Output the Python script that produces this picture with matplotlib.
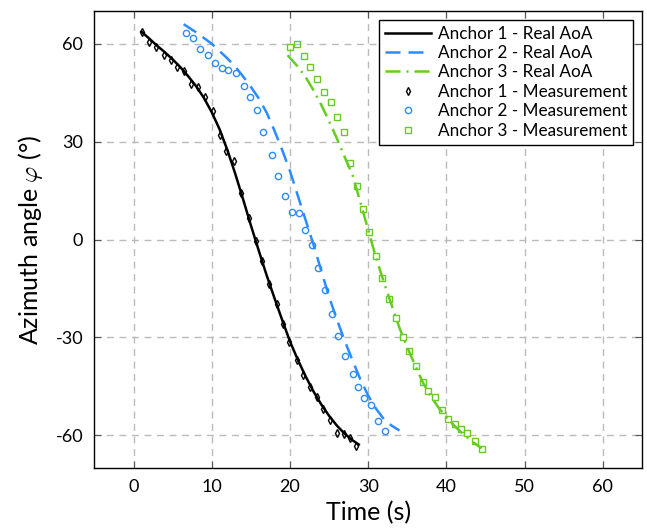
import numpy as np
import matplotlib
matplotlib.use("Agg")
from matplotlib import pyplot as plt

plt.rcParams['font.family'] = ['Lato', 'DejaVu Sans']
plt.rcParams['axes.unicode_minus'] = False
plt.rcParams['mathtext.fontset'] = 'cm'

# Real AoA curves (time in s, angle in deg)
real1_t = [1.0, 2, 3, 4, 5, 6, 7, 8, 9, 10, 11, 12, 13, 14, 15, 16, 17, 18, 19, 20, 21, 22, 23, 24, 25, 26, 27, 28, 28.8]
real1_y = [63.7, 61.6, 59.4, 57.4, 55.2, 52.8, 50.0, 47.0, 43.4, 39.0, 33.8, 27.4, 20.2, 12.4, 4.4, -3.3, -10.8, -17.8, -24.6, -31.2, -36.8, -41.9, -46.5, -50.5, -54.0, -57.0, -59.5, -61.5, -62.8]

real2_t = [6.4, 8, 10, 12, 13, 14, 15, 16, 17, 18, 19, 20, 21, 22, 23, 24, 25, 26, 27, 28, 29, 30, 31, 32, 33, 34]
real2_y = [66.0, 63.5, 60.0, 55.5, 53.0, 50.0, 46.8, 43.3, 39.0, 33.5, 27.5, 21.0, 13.5, 6.0, -1.5, -9.5, -17.5, -24.5, -31.0, -37.0, -42.8, -47.8, -51.8, -55.0, -57.0, -58.5]

real3_t = [19.7, 21, 22, 23, 24, 25, 26, 27, 28, 29, 30, 31, 32, 33, 34, 35, 36, 37, 38, 39, 40, 41, 42, 43, 44.5]
real3_y = [56.5, 53.0, 49.8, 45.8, 41.3, 36.3, 31.0, 25.3, 19.8, 11.5, 3.0, -5.5, -13.0, -20.0, -27.0, -33.0, -38.5, -43.8, -48.0, -51.5, -54.5, -57.0, -59.3, -61.3, -64.0]

# Measurements
meas1_t = [1.1, 2.0, 2.9, 3.9, 4.8, 5.6, 6.5, 7.4, 8.3, 9.2, 10.1, 11.0, 11.8, 12.9, 13.8, 14.7, 15.6, 16.4, 17.3, 18.3, 19.1, 19.9, 20.9, 21.7, 22.6, 23.4, 24.2, 25.1, 26.0, 26.9, 27.7, 28.5]
meas1_y = [63.7, 60.6, 59.1, 56.4, 55.1, 52.9, 51.7, 47.7, 46.8, 43.7, 39.3, 32.1, 27.0, 24.1, 14.2, 6.7, -0.5, -6.5, -13.5, -19.7, -25.8, -31.4, -37.0, -41.5, -45.2, -48.3, -51.8, -55.3, -59.2, -59.7, -60.9, -63.3]

meas2_t = [6.7, 7.6, 8.5, 9.5, 10.4, 11.3, 12.1, 13.1, 14.1, 14.9, 15.8, 16.6, 17.7, 18.5, 19.4, 20.2, 21.1, 21.95, 22.8, 23.6, 24.5, 25.4, 26.2, 27.1, 28.0, 28.7, 29.5, 30.4, 31.2, 32.1]
meas2_y = [63.3, 61.7, 58.3, 56.6, 54.2, 52.6, 52.0, 50.9, 47.1, 43.6, 39.8, 33.1, 25.9, 19.6, 13.2, 8.5, 8.0, 3.0, -1.8, -8.6, -15.6, -22.7, -29.7, -35.6, -41.1, -45.1, -48.5, -50.7, -55.5, -58.8]

meas3_t = [19.95, 20.9, 21.8, 22.6, 23.4, 24.3, 25.2, 26.0, 26.9, 27.7, 28.6, 29.3, 30.1, 31.0, 31.8, 32.65, 33.5, 34.4, 35.2, 36.1, 37.0, 37.7, 38.6, 39.4, 40.2, 41.1, 41.9, 42.7, 43.7, 44.5]
meas3_y = [59.1, 59.9, 56.1, 53.0, 49.1, 45.3, 42.0, 37.7, 33.1, 23.6, 16.3, 9.4, 2.2, -4.9, -11.8, -18.3, -24.1, -29.8, -34.0, -38.8, -43.5, -46.3, -48.2, -52.3, -54.9, -56.6, -57.9, -59.2, -61.7, -64.1]

x_ticks = [0, 10, 20, 30, 40, 50, 60]
y_ticks = [-60, -30, 0, 30, 60]

blue = '#2B8CFF'
green = '#66CC22'

fig = plt.figure(figsize=(6.47, 5.29), dpi=100)
ax = fig.add_axes([0.146, 0.1153, 0.846, 0.8637])

ax.grid(True, color='#bbbbbb', linestyle=(0, (5, 4)), linewidth=1.0)
ax.set_axisbelow(True)

ax.plot(real1_t, real1_y, color='black', linewidth=1.8, label='Anchor 1 - Real AoA')
ax.plot(real2_t, real2_y, color=blue, linewidth=1.8, linestyle=(0, (6, 3.2)), label='Anchor 2 - Real AoA')
ax.plot(real3_t, real3_y, color=green, linewidth=1.8, linestyle=(0, (6, 2.4, 0.8, 2.4)), label='Anchor 3 - Real AoA')

ax.plot(meas1_t, meas1_y, linestyle='none', marker='d', markersize=4, markerfacecolor='none',
        markeredgecolor='black', markeredgewidth=1.0, label='Anchor 1 - Measurement')
ax.plot(meas2_t, meas2_y, linestyle='none', marker='o', markersize=4.5, markerfacecolor='none',
        markeredgecolor=blue, markeredgewidth=1.0, label='Anchor 2 - Measurement')
ax.plot(meas3_t, meas3_y, linestyle='none', marker='s', markersize=4, markerfacecolor='none',
        markeredgecolor=green, markeredgewidth=1.0, label='Anchor 3 - Measurement')

ax.set_xlim(-5, 65)
ax.set_ylim(-70, 70)
ax.set_xticks(x_ticks)
ax.set_yticks(y_ticks)
ax.tick_params(direction='in', top=True, right=True, length=5, width=0.8,
               color='#555555', labelsize=13, pad=8)
for s in ax.spines.values():
    s.set_linewidth(1.0)

ax.set_xlabel('Time (s)', fontsize=18, labelpad=4)
ax.set_ylabel(r'Azimuth angle $\varphi$ (°)', fontsize=18, labelpad=8)

leg = ax.legend(loc='upper right', fontsize=12.3, frameon=True, fancybox=False,
                edgecolor='black', framealpha=1, handlelength=2.7, handletextpad=0.4,
                borderaxespad=0.5, labelspacing=0.2, borderpad=0.35)
leg.get_frame().set_linewidth(1.0)

fig.savefig('out.png', dpi=100)
